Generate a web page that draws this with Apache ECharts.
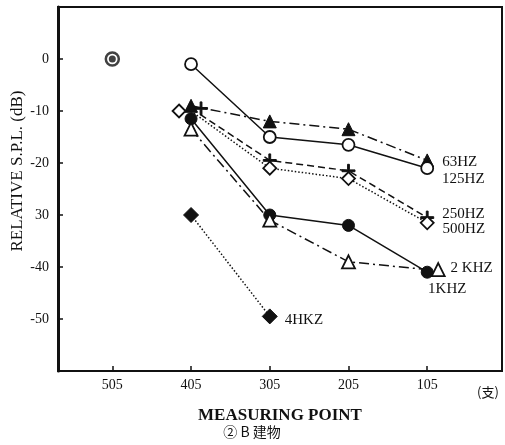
<!DOCTYPE html>
<html>
<head>
<meta charset="utf-8">
<script src="https://cdn.jsdelivr.net/npm/echarts@6/dist/echarts.min.js"></script>
<style>html,body{margin:0;padding:0;background:#fff}#c{width:505px;height:445px}</style>
</head>
<body>
<div id="c"></div>
<script>
// measuring points (x axis)
const points = [505, 405, 305, 205, 105];
const pointLabels = ['505', '405', '305', '205', '105'];
// relative S.P.L. (dB) per frequency, aligned with points
const hz63   = [null, -9,    -12,   -13.5, -19.5];
const hz125  = [null, -1,    -15,   -16.5, -21];
const hz250  = [null, -9.5,  -19.5, -21.5, -30.5];
const hz500  = [null, -10,   -21,   -23,   -31.5];
const khz1   = [null, -11.5, -30,   -32,   -41];
const khz2   = [null, -13.5, -31,   -39,   -40.5];
const khz4   = [null, -30,   -49.5, null,  null];
const refVal = [0, null, null, null, null];
// y tick values and labels
const yTicks = [0, -10, -20, -30, -40, -50];
const yTickLabels = ['0', '-10', '-20', '30', '-40', '-50'];
const seriesNames = ['63HZ', '125HZ', '250HZ', '500HZ', '1KHZ', '2 KHZ', '4HKZ'];

const SERIF = '"Liberation Serif", "DejaVu Serif", serif';
const plusPath = 'path://M4.3,0 L5.7,0 L5.7,4.3 L10,4.3 L10,5.7 L5.7,5.7 L5.7,10 L4.3,10 L4.3,5.7 L0,5.7 L0,4.3 L4.3,4.3 Z';

function pairs(vals, opts) {
  opts = opts || {};
  const out = [];
  vals.forEach((v, i) => {
    if (v === null) return;
    const item = { value: [points[i], v] };
    if (opts.offsets && opts.offsets[i]) item.symbolOffset = opts.offsets[i];
    if (opts.label && i === opts.labelIndex) {
      item.label = Object.assign({ show: true, formatter: '{a}', fontFamily: SERIF, fontSize: 15, color: '#111' }, opts.label);
    }
    out.push(item);
  });
  return out;
}

function lineSeries(name, vals, symbol, filled, lineType, opts) {
  return {
    type: 'line', name: name,
    data: pairs(vals, opts),
    symbol: symbol, symbolSize: opts.size || 12,
    showAllSymbol: true,
    lineStyle: { color: '#111', width: 1.5, type: lineType },
    itemStyle: filled ? { color: '#111', borderColor: '#111', borderWidth: 1 } : { color: '#fff', borderColor: '#111', borderWidth: 1.8 },
    z: 3,
    silent: true
  };
}

const chart = echarts.init(document.getElementById('c'), null, { renderer: 'canvas' });
chart.setOption({
  animation: false,
  backgroundColor: '#fff',
  grid: { left: 58, top: 7, right: 3, bottom: 74, show: true, borderColor: '#111', borderWidth: 2, backgroundColor: 'transparent' },
  xAxis: {
    type: 'value', inverse: true, min: 10, max: 574,
    name: 'MEASURING POINT', nameLocation: 'middle', nameGap: 36,
    nameTextStyle: { fontFamily: SERIF, fontWeight: 'bold', fontSize: 17, color: '#111' },
    axisLine: { show: true, onZero: false, lineStyle: { color: '#111', width: 2 } },
    axisTick: { show: true, inside: true, length: 5, lineStyle: { color: '#111', width: 1.5 }, customValues: points },
    axisLabel: { color: '#111', fontFamily: SERIF, fontSize: 14, margin: 7, customValues: points,
      formatter: v => pointLabels[points.indexOf(v)] || '' },
    splitLine: { show: false }
  },
  yAxis: {
    type: 'value', min: -60, max: 10,
    axisLine: { show: true, onZero: false, lineStyle: { color: '#111', width: 3 } },
    axisTick: { show: true, inside: true, length: 5, lineStyle: { color: '#111', width: 1.5 }, customValues: yTicks },
    axisLabel: { color: '#111', fontFamily: SERIF, fontSize: 14, margin: 9, customValues: yTicks,
      formatter: v => { const i = yTicks.indexOf(v); return i >= 0 ? yTickLabels[i] : ''; } },
    splitLine: { show: false }
  },
  graphic: [
    { type: 'text', x: 18, y: 171, rotation: Math.PI / 2,
      style: { text: 'RELATIVE S.P.L. (dB)', font: '17px ' + SERIF, fill: '#111', align: 'center', verticalAlign: 'middle' } },
    { type: 'text', x: 488, y: 392,
      style: { text: '(支)', font: '13px "Noto Sans CJK SC", serif', fill: '#111', align: 'center', verticalAlign: 'middle' } },
    { type: 'text', x: 252, y: 432,
      style: { text: '② B 建物', font: '14px "Noto Sans CJK SC", serif', fill: '#111', align: 'center', verticalAlign: 'middle' } }
  ],
  series: [
    lineSeries(seriesNames[0], hz63, 'triangle', true, [10, 4, 2, 4],
      { size: 13, labelIndex: 4, label: { position: 'right', offset: [3, 2] } }),
    lineSeries(seriesNames[1], hz125, 'circle', false, 'solid',
      { size: 12, labelIndex: 4, label: { position: 'right', offset: [3, 11] } }),
    lineSeries(seriesNames[2], hz250, plusPath, true, [7, 4],
      { size: 13, offsets: { 1: [10, 0] }, labelIndex: 4, label: { position: 'right', offset: [3, -4] } }),
    lineSeries(seriesNames[3], hz500, 'diamond', false, [1.5, 2],
      { size: 13, offsets: { 1: [-12, 0] }, labelIndex: 4, label: { position: 'right', offset: [3, 6] } }),
    lineSeries(seriesNames[4], khz1, 'circle', true, 'solid',
      { size: 12, labelIndex: 4, label: { position: 'bottom', offset: [20, -2] } }),
    lineSeries(seriesNames[5], khz2, 'triangle', false, [10, 4, 2, 4],
      { size: 13, offsets: { 4: [11, 0] }, labelIndex: 4, label: { position: 'right', offset: [0, -2] } }),
    lineSeries(seriesNames[6], khz4, 'diamond', true, [1.5, 2],
      { size: 15, labelIndex: 2, label: { position: 'right', offset: [2, 4] } }),
    { type: 'scatter', name: 'ref-ring', data: pairs(refVal), symbol: 'circle', symbolSize: 13,
      itemStyle: { color: '#fff', borderColor: '#111', borderWidth: 2.5 }, silent: true, z: 3 },
    { type: 'scatter', name: 'ref-dot', data: pairs(refVal), symbol: 'circle', symbolSize: 7,
      itemStyle: { color: '#111' }, silent: true, z: 4 }
  ]
});
</script>
</body>
</html>
